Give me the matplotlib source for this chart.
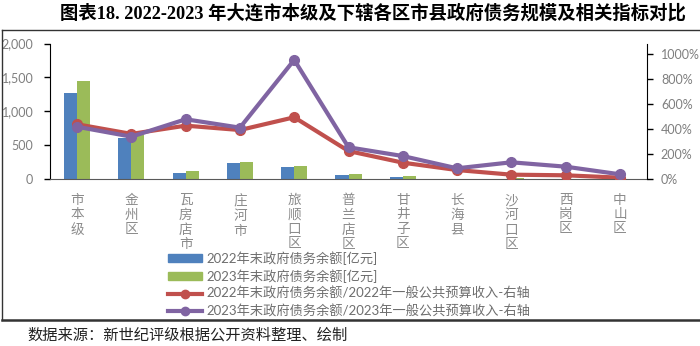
import matplotlib
matplotlib.use("Agg")
import matplotlib.pyplot as plt
import numpy as np
from matplotlib.lines import Line2D
from matplotlib.patches import Patch

plt.rcParams['font.family'] = ['Lato', 'Noto Sans CJK SC', 'DejaVu Sans']

categories = ["市本级", "金州区", "瓦房店市", "庄河市", "旅顺口区", "普兰店区",
              "甘井子区", "长海县", "沙河口区", "西岗区", "中山区"]
debt_2022 = [1265, 606, 98, 241, 187, 59, 38, 8, 10, 5, 5]
debt_2023 = [1443, 655, 118, 256, 190, 74, 53, 10, 12, 6, 6]
ratio_2022 = [440, 363, 429, 394, 496, 226, 133, 74, 37, 32, 13]
ratio_2023 = [420, 341, 480, 413, 955, 256, 186, 88, 136, 101, 40]
left_ticks = [0, 500, 1000, 1500, 2000]
right_ticks = [0, 200, 400, 600, 800, 1000]

labels = ["2022年末政府债务余额[亿元]", "2023年末政府债务余额[亿元]",
          "2022年末政府债务余额/2022年一般公共预算收入-右轴",
          "2023年末政府债务余额/2023年一般公共预算收入-右轴"]

c_blue, c_green, c_red, c_purple = "#4F81BD", "#9BBB59", "#C0504D", "#8064A2"
gray = "#7F7F7F"

fig = plt.figure(figsize=(7, 3.46), dpi=100)
W, H = 700, 346
ax = fig.add_axes([50 / W, 1 - 179.3 / H, (647 - 50) / W, (179.3 - 43.5) / H])

x = np.arange(len(categories))
bw = 0.24
ax.bar(x - bw / 2, debt_2022, width=bw, color=c_blue, zorder=2)
ax.bar(x + bw / 2, debt_2023, width=bw, color=c_green, zorder=2)
ax.set_xlim(-0.5, len(categories) - 0.5)
ax.set_ylim(0, 2000)
ax.set_yticks(left_ticks)
ax.set_yticklabels([f"{v:,}" for v in left_ticks])
ax.tick_params(axis='y', colors=gray, labelsize=9, length=4, width=1, pad=8, direction='out')
ax.tick_params(axis='y', color='black')
ax.set_xticks(x)
ax.set_xticklabels(["\n".join(c) for c in categories], color="#8C8C8C", fontsize=9.8,
                   va='top', linespacing=1.22)
ax.tick_params(axis='x', length=0, pad=10.5)
for s in ['top', 'right']:
    ax.spines[s].set_visible(False)
ax.spines['left'].set_color('black')
ax.spines['bottom'].set_color('#595959')

ax2 = ax.twinx()
ax2.set_ylim(0, 1086)
ax2.plot(x, ratio_2022, color=c_red, lw=3, marker='o', ms=7, zorder=3)
ax2.plot(x, ratio_2023, color=c_purple, lw=3, marker='o', ms=7, zorder=4)
ax2.set_yticks(right_ticks)
ax2.set_yticklabels([f"{v}%" for v in right_ticks])
ax2.tick_params(axis='y', colors=gray, labelsize=9, length=4, width=1, pad=6)
ax2.tick_params(axis='y', color='black')
for s in ['top', 'left', 'bottom']:
    ax2.spines[s].set_visible(False)
ax2.spines['right'].set_color('black')

handles = [Patch(color=c_blue), Patch(color=c_green),
           Line2D([], [], color=c_red, lw=3, marker='o', ms=6),
           Line2D([], [], color=c_purple, lw=3, marker='o', ms=6)]
leg = fig.legend(handles, labels, loc='upper left', bbox_to_anchor=(168 / W, 1 - 251 / H),
                 frameon=False, fontsize=9.5, handlelength=2.6, handleheight=0.5,
                 handletextpad=0.3, labelspacing=0.32, borderpad=0, borderaxespad=0)
for t in leg.get_texts():
    t.set_color("#6E6E6E")

fig.text(373 / W, 1 - 13 / H, "图表18. 2022-2023 年大连市本级及下辖各区市县政府债务规模及相关指标对比",
         ha='center', va='center', fontsize=13.2, fontweight='bold',
         family=['Liberation Serif', 'Noto Sans CJK SC'])

# frame
fig.add_artist(Line2D([1.5 / W, 1.5 / W], [1 - 29.5 / H, 1 - 320 / H], color='#333333', lw=1))
fig.add_artist(Line2D([1.5 / W, 1], [1 - 29.5 / H, 1 - 29.5 / H], color='#333333', lw=1))
fig.add_artist(Line2D([1.5 / W, 1], [1 - 320 / H, 1 - 320 / H], color='#333333', lw=1.8))

fig.text(27 / W, 1 - 335 / H, "数据来源：新世纪评级根据公开资料整理、绘制",
         ha='left', va='center', fontsize=11, color='#222222',
         family=['Noto Sans CJK SC'])

fig.savefig("out.png", dpi=100)
